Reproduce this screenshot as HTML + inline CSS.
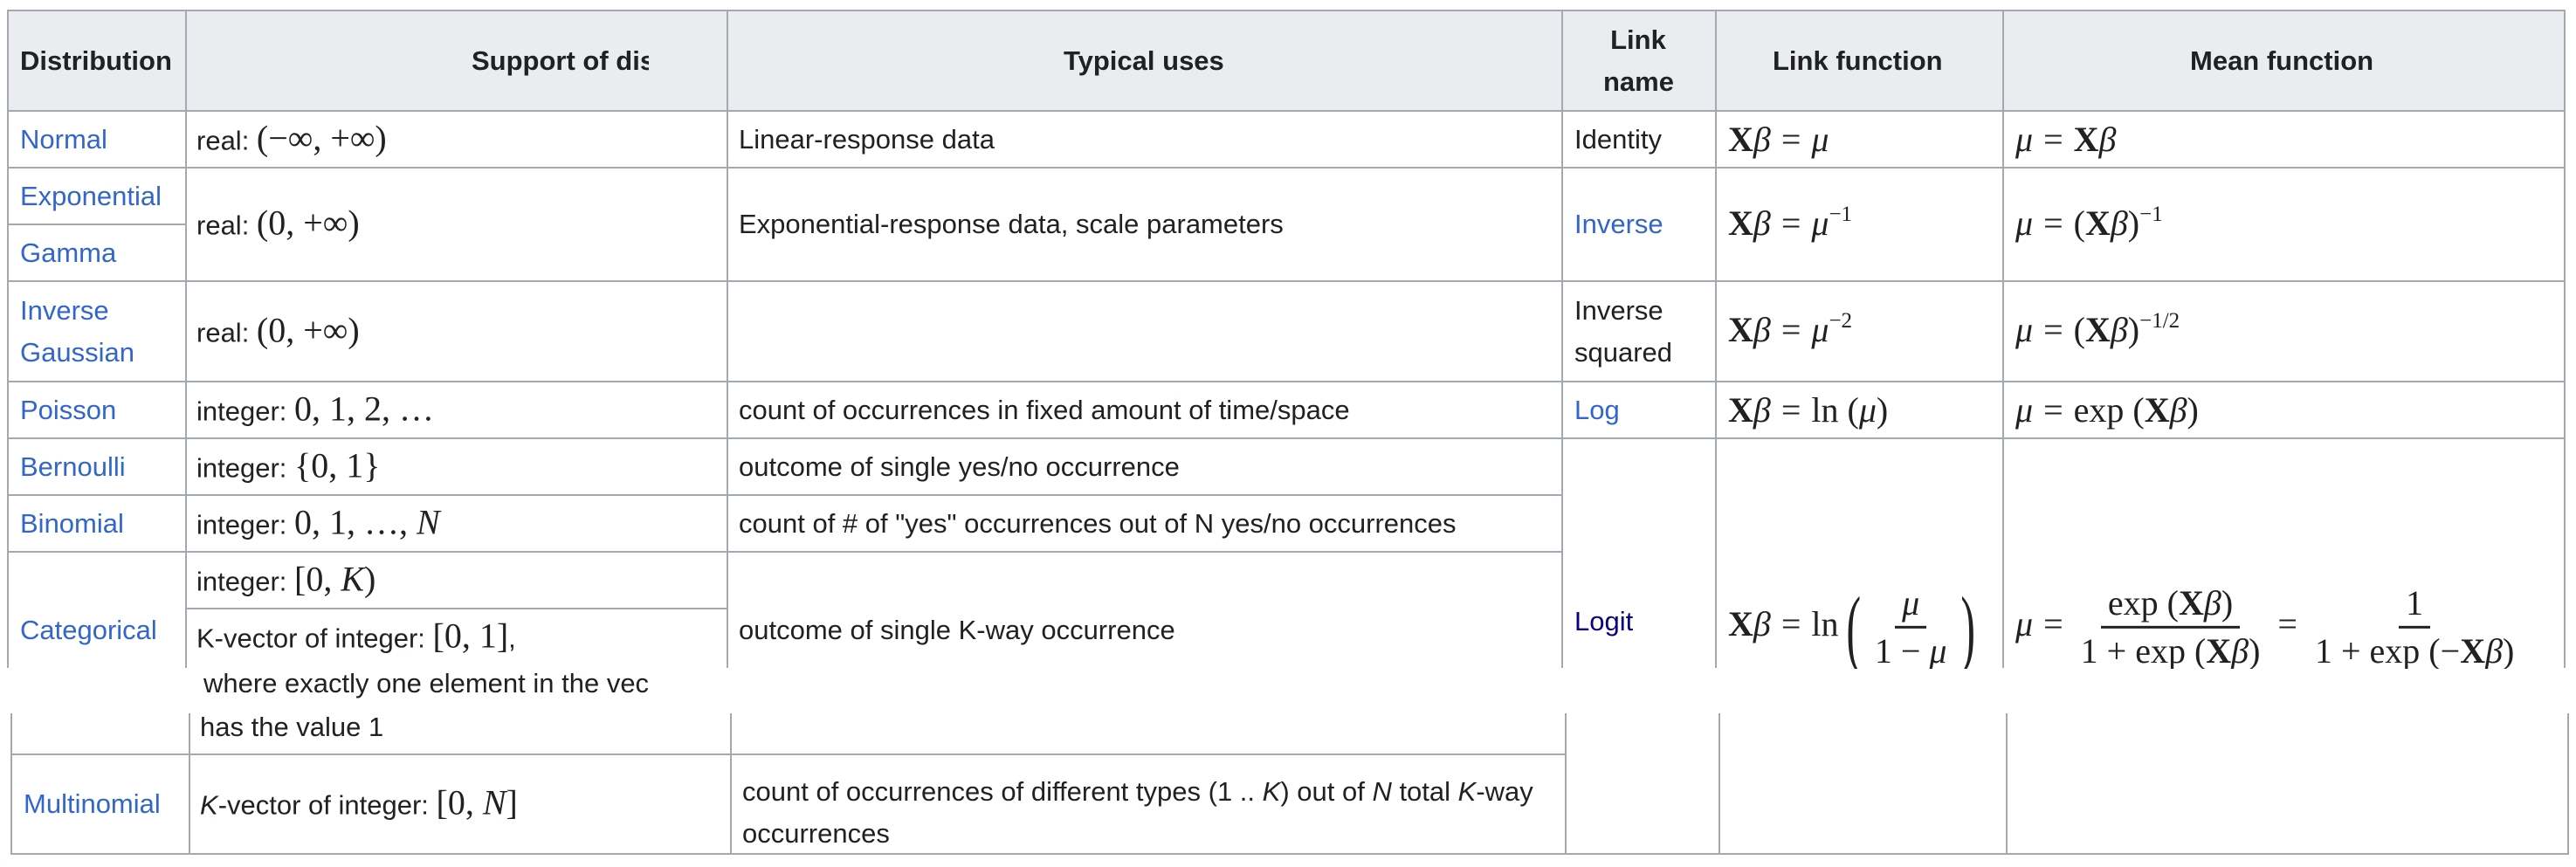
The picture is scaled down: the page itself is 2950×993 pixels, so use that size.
<!DOCTYPE html>
<html><head><meta charset="utf-8">
<style>
html,body{margin:0;padding:0;background:#fff}
#c{position:relative;width:2950px;height:993px;overflow:hidden;font-family:"Liberation Sans",Arial,sans-serif;font-size:31px;color:#202122}
.h{position:absolute;height:2px;background:#a2a9b1}
.v{position:absolute;width:2px;background:#a2a9b1}
.bg{position:absolute;background:#eaecf0}
.t{position:absolute;white-space:nowrap;transform:translateY(-50%);line-height:48px}
.b{font-weight:bold}
.a{color:#3366cc}
.av{color:#0b0080}
.m{font-family:"Liberation Serif","DejaVu Serif",serif;font-size:40px}
.m i{font-style:italic}
.X{font-weight:bold;font-style:normal}
.eq{padding:0 12px}
sup{font-size:25px;vertical-align:16px;line-height:0}
.fr{display:inline-flex;flex-direction:column;align-items:center;vertical-align:middle;line-height:52px}
.fr .n{padding:0 8px;border-bottom:3px solid #202122}
.fr .d{padding:0 8px}
.big{font-size:100px;line-height:100px;vertical-align:middle;font-weight:100;transform:scaleX(0.5);display:inline-block}
</style></head><body><div id="c">
<div class="bg" style="left:8px;top:12px;width:2930px;height:115px"></div>
<div class="h" style="left:8px;top:11px;width:2930px"></div>
<div class="h" style="left:8px;top:126px;width:2930px"></div>
<div class="h" style="left:8px;top:191px;width:2930px"></div>
<div class="h" style="left:8px;top:256px;width:204px"></div>
<div class="h" style="left:8px;top:321px;width:2930px"></div>
<div class="h" style="left:8px;top:436px;width:2930px"></div>
<div class="h" style="left:8px;top:501px;width:2930px"></div>
<div class="h" style="left:8px;top:566px;width:1780px"></div>
<div class="h" style="left:8px;top:631px;width:1780px"></div>
<div class="h" style="left:212px;top:696px;width:620px"></div>
<div class="v" style="left:8px;top:11px;height:754px"></div>
<div class="v" style="left:212px;top:11px;height:754px"></div>
<div class="v" style="left:832px;top:11px;height:754px"></div>
<div class="v" style="left:1788px;top:11px;height:754px"></div>
<div class="v" style="left:1964px;top:11px;height:754px"></div>
<div class="v" style="left:2293px;top:11px;height:754px"></div>
<div class="v" style="left:2936px;top:11px;height:754px"></div>
<div class="h" style="left:12px;top:863px;width:1780px"></div>
<div class="h" style="left:12px;top:977px;width:2930px"></div>
<div class="v" style="left:12px;top:817px;height:162px"></div>
<div class="v" style="left:216px;top:817px;height:162px"></div>
<div class="v" style="left:836px;top:817px;height:162px"></div>
<div class="v" style="left:1792px;top:817px;height:162px"></div>
<div class="v" style="left:1968px;top:817px;height:162px"></div>
<div class="v" style="left:2297px;top:817px;height:162px"></div>
<div class="v" style="left:2940px;top:817px;height:162px"></div>

<div class="t b" style="left:23px;top:70px">Distribution</div>
<div class="t b" style="left:540px;top:70px;width:203px;overflow:hidden">Support of distribution</div>
<div class="t b" style="left:1218px;top:70px">Typical uses</div>
<div class="t b" style="left:1836px;top:70px;text-align:center;width:80px">Link<br>name</div>
<div class="t b" style="left:2030px;top:70px">Link function</div>
<div class="t b" style="left:2508px;top:70px">Mean function</div>

<div class="t a" style="left:23px;top:160px">Normal</div>
<div class="t a" style="left:23px;top:225px">Exponential</div>
<div class="t a" style="left:23px;top:290px">Gamma</div>
<div class="t a" style="left:23px;top:380px">Inverse<br>Gaussian</div>
<div class="t a" style="left:23px;top:470px">Poisson</div>
<div class="t a" style="left:23px;top:535px">Bernoulli</div>
<div class="t a" style="left:23px;top:600px">Binomial</div>
<div class="t a" style="left:23px;top:722px">Categorical</div>
<div class="t a" style="left:27px;top:921px">Multinomial</div>

<div class="t" style="left:225px;top:160px">real: <span class="m">(−∞, +∞)</span></div>
<div class="t" style="left:225px;top:257px">real: <span class="m">(0, +∞)</span></div>
<div class="t" style="left:225px;top:380px">real: <span class="m">(0, +∞)</span></div>
<div class="t" style="left:225px;top:470px">integer: <span class="m">0, 1, 2, …</span></div>
<div class="t" style="left:225px;top:535px">integer: <span class="m">{0, 1}</span></div>
<div class="t" style="left:225px;top:600px">integer: <span class="m">0, 1, …, <i>N</i></span></div>
<div class="t" style="left:225px;top:665px">integer: <span class="m">[0, <i>K</i>)</span></div>
<div class="t" style="left:225px;top:730px">K-vector of integer: <span class="m">[0, 1]</span>,</div>
<div class="t" style="left:229px;top:833px">has the value 1</div>
<div class="t" style="left:229px;top:921px"><i>K</i>-vector of integer: <span class="m">[0, <i>N</i>]</span></div>

<div class="t" style="left:846px;top:160px">Linear-response data</div>
<div class="t" style="left:846px;top:257px">Exponential-response data, scale parameters</div>
<div class="t" style="left:846px;top:470px">count of occurrences in fixed amount of time/space</div>
<div class="t" style="left:846px;top:535px">outcome of single yes/no occurrence</div>
<div class="t" style="left:846px;top:600px">count of # of "yes" occurrences out of N yes/no occurrences</div>
<div class="t" style="left:846px;top:722px">outcome of single K-way occurrence</div>
<div class="t" style="left:850px;top:931px">count of occurrences of different types (1 .. <i>K</i>) out of <i>N</i> total <i>K</i>-way<br>occurrences</div>

<div class="t" style="left:1803px;top:160px">Identity</div>
<div class="t a" style="left:1803px;top:257px">Inverse</div>
<div class="t" style="left:1803px;top:380px">Inverse<br>squared</div>
<div class="t a" style="left:1803px;top:470px">Log</div>
<div class="t av" style="left:1803px;top:712px">Logit</div>

<div class="t m" style="left:1979px;top:160px"><span class="X">X</span><i>β</i><span class="eq">=</span><i>μ</i></div>
<div class="t m" style="left:1979px;top:256px"><span class="X">X</span><i>β</i><span class="eq">=</span><i>μ</i><sup>−1</sup></div>
<div class="t m" style="left:1979px;top:378px"><span class="X">X</span><i>β</i><span class="eq">=</span><i>μ</i><sup>−2</sup></div>
<div class="t m" style="left:1979px;top:470px"><span class="X">X</span><i>β</i><span class="eq">=</span>ln (<i>μ</i>)</div>
<div class="t m" style="left:1979px;top:716px;line-height:110px"><span class="X">X</span><i>β</i><span class="eq">=</span>ln<span class="big">(</span><span class="fr"><span class="n"><i>μ</i></span><span class="d">1 − <i>μ</i></span></span><span class="big">)</span></div>

<div class="t m" style="left:2308px;top:160px"><i>μ</i><span class="eq">=</span><span class="X">X</span><i>β</i></div>
<div class="t m" style="left:2308px;top:256px"><i>μ</i><span class="eq">=</span>(<span class="X">X</span><i>β</i>)<sup>−1</sup></div>
<div class="t m" style="left:2308px;top:378px"><i>μ</i><span class="eq">=</span>(<span class="X">X</span><i>β</i>)<sup>−1/2</sup></div>
<div class="t m" style="left:2308px;top:470px"><i>μ</i><span class="eq">=</span>exp (<span class="X">X</span><i>β</i>)</div>
<div class="t m" style="left:2308px;top:716px;line-height:110px"><i>μ</i><span class="eq">=</span><span class="fr"><span class="n">exp (<span class="X">X</span><i>β</i>)</span><span class="d">1 + exp (<span class="X">X</span><i>β</i>)</span></span><span class="eq">=</span><span class="fr"><span class="n">1</span><span class="d">1 + exp (−<span class="X">X</span><i>β</i>)</span></span></div>

<div style="position:absolute;left:0;top:766px;width:2950px;height:50px;background:#fff"></div>
<div class="t" style="left:233px;top:783px;width:510px;overflow:hidden">where exactly one element in the vector</div>
</div></body></html>
